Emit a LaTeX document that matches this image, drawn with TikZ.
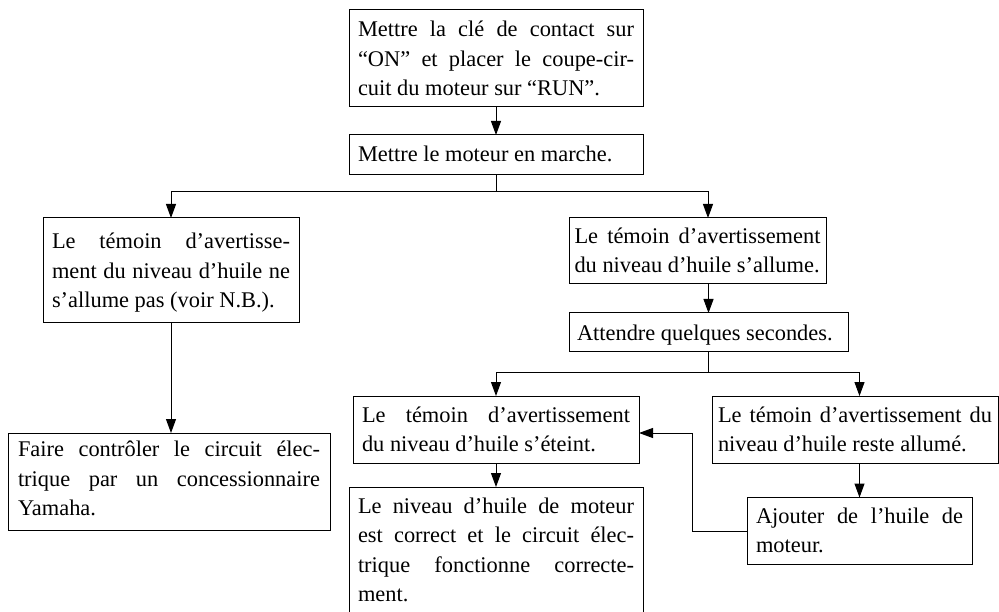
\documentclass[tikz,border=0pt]{standalone}
\usepackage{fontspec}
\setmainfont{Liberation Serif}
\usetikzlibrary{arrows.meta,calc}
\hyphenpenalty=10000
\exhyphenpenalty=10000
\newcommand{\topst}[1]{\rule{0pt}{#1pt}}
\newcommand{\botst}[1]{\rule[-#1pt]{0pt}{#1pt}}
\begin{document}
\begin{tikzpicture}[x=1pt,y=-1pt,
  box/.style={draw, line width=1pt, inner ysep=0pt, outer sep=0pt, anchor=north west,
    align=justify, font=\fontsize{22.4}{29.5}\selectfont},
  conn/.style={line width=1pt},
  arr/.style={conn, -{Triangle[length=14pt,width=10pt]}}]
\useasboundingbox (0,0) rectangle (999,612);

\node[box, text width=276pt, inner xsep=9pt] (b1) at (349,10)
  {\topst{27}Mettre la clé de contact sur\linebreak “ON” et placer le coupe-cir-\linebreak cuit du moteur sur “RUN”.\botst{11}};
\node[box, text width=276pt, inner xsep=9pt] (b2) at (349,135)
  {\topst{27}Mettre le moteur en marche.\botst{13}};
\node[box, text width=238pt, inner xsep=9pt] (b3) at (43,218)
  {\topst{31}Le témoin d’avertisse-\linebreak ment du niveau d’huile ne\linebreak s’allume pas (voir N.B.).\botst{15}};
\node[box, text width=246pt, inner xsep=5.5pt] (b4) at (569,218)
  {\topst{25.5}Le témoin d’avertissement\linebreak du niveau d’huile s’allume.\botst{11}};
\node[box, text width=263pt, inner xsep=8pt] (b5) at (569,313)
  {\topst{28}Attendre quelques secondes.\botst{11}};
\node[box, text width=268pt, inner xsep=9pt] (b6) at (353,396)
  {\topst{26}Le témoin d’avertissement\linebreak du niveau d’huile s’éteint.\botst{11.5}};
\node[box, text width=276pt, inner xsep=9pt] (b7) at (349,487)
  {\topst{26}Le niveau d’huile de moteur\linebreak est correct et le circuit élec-\linebreak trique fonctionne correcte-\linebreak ment.\botst{14}};
\node[box, text width=274pt, inner xsep=6pt] (b8) at (712,396)
  {\topst{26}Le témoin d’avertissement du\linebreak niveau d’huile reste allumé.\botst{11.5}};
\node[box, text width=207pt, inner xsep=9pt] (b9) at (747,497.5)
  {\topst{25.5}Ajouter de l’huile de\linebreak moteur.\botst{12}};
\node[box, text width=302pt, inner xsep=10pt] (b10) at (8,433)
  {\topst{23.5}Faire contrôler le circuit élec-\linebreak trique par un concessionnaire\linebreak Yamaha.\botst{15}};

\coordinate (j1) at ($(b2.south)+(0,17)$);
\coordinate (j2) at ($(b5.south)+(0,21)$);
\draw[arr] (b1.south) -- (b2.north);
\draw[conn] (b2.south) -- (j1);
\draw[arr] (j1) -| (b3.north);
\draw[arr] (j1) -| ([xshift=10.5pt]b4.north);
\draw[arr] (b3.south) -- (b3.south |- b10.north);
\draw[arr] (b5.north |- b4.south) -- (b5.north);
\draw[conn] (b5.south) -- (j2);
\draw[arr] (j2) -| (b6.north);
\draw[arr] (j2) -| (b9.north |- b8.north);
\draw[arr] (b6.south) -- (b6.south |- b7.north);
\draw[arr] (b9.north |- b8.south) -- (b9.north);
\draw[arr] (b9.west) -- ++(-55,0) |- ([yshift=-3.5pt]b6.east);
\end{tikzpicture}
\end{document}
